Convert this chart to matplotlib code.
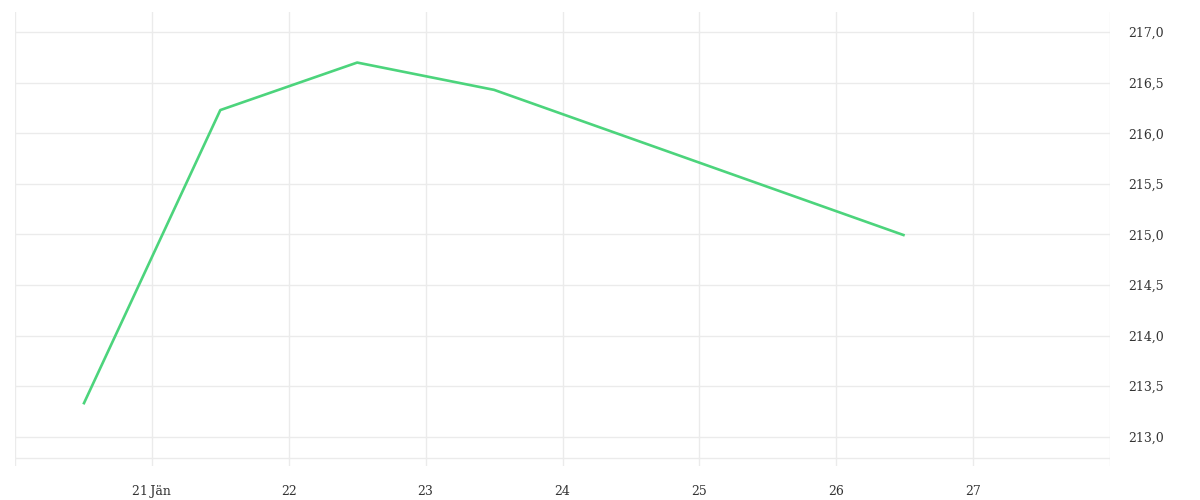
import matplotlib
matplotlib.use("Agg")
import matplotlib.pyplot as plt
import matplotlib.ticker as mticker

# data: daily values, plotted at noon of each day (day-of-January)
days = [20.5, 21.5, 22.5, 23.5, 26.5]
values = [213.32, 216.23, 216.70, 216.43, 214.99]

x_ticks = [21, 22, 23, 24, 25, 26, 27]
x_labels = ["21\u2009Jän", "22", "23", "24", "25", "26", "27"]
y_ticks = [213.0, 213.5, 214.0, 214.5, 215.0, 215.5, 216.0, 216.5, 217.0]

plt.rcParams['font.family'] = ['DejaVu Serif']

fig = plt.figure(figsize=(12, 5), dpi=100)
ax = fig.add_axes([15 / 1200, 1 - 466 / 500, 1095 / 1200, 454 / 500])

ax.plot(days, values, color="#4cd47c", linewidth=1.9, solid_capstyle="butt")

ax.set_xlim(20.0, 28.0)
ax.set_ylim(212.71, 217.2)

ax.set_xticks([20] + x_ticks + [28])
ax.set_xticklabels([""] + x_labels + [""])
ax.set_yticks(y_ticks)
ax.yaxis.set_major_formatter(mticker.FuncFormatter(lambda v, p: f"{v:.1f}".replace(".", ",")))

ax.grid(True, color="#ebebeb", linewidth=1)
ax.axhline(212.79, color="#ebebeb", linewidth=1, zorder=0)
for s in ax.spines.values():
    s.set_visible(False)

ax.yaxis.tick_right()
ax.tick_params(axis="both", length=0, labelsize=9, colors="#333333")
ax.tick_params(axis="y", pad=13)
ax.tick_params(axis="x", pad=14)

fig.savefig("out.png", dpi=100, facecolor="white")
